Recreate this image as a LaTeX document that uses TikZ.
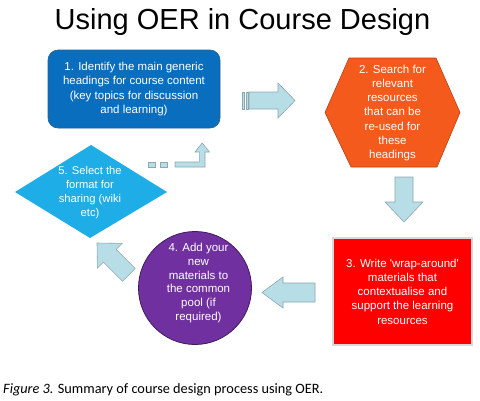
\documentclass[tikz,border=0pt]{standalone}
\usepackage{fontspec}
\setmainfont{Liberation Sans}
\newfontfamily\capfont{Carlito}
\usetikzlibrary{shapes.geometric}
\definecolor{boxblue}{HTML}{0A6EBF}
\definecolor{boxblueline}{HTML}{2C5E8E}
\definecolor{hexfill}{HTML}{F45A1C}
\definecolor{hexline}{HTML}{B5431A}
\definecolor{purp}{HTML}{7030A0}
\definecolor{purpline}{HTML}{3F1B5B}
\definecolor{diamfill}{HTML}{1EADE6}
\definecolor{arrfill}{HTML}{B7DDE6}
\definecolor{arrline}{HTML}{8CA9B0}
\begin{document}
\begin{tikzpicture}[x=1pt,y=-1pt,
  txt/.style={text=white, font=\fontsize{11.5}{14.3}\selectfont, align=center, inner sep=0pt},
  blockarrow/.style={fill=arrfill, draw=arrline, line width=0.6pt, line join=miter},
  box1/.style={txt, rectangle, rounded corners=10pt, fill=boxblue, draw=boxblueline, line width=0.6pt, minimum width=172pt, minimum height=78pt},
  box3/.style={txt, rectangle, fill=red, draw=black!15, line width=1.4pt, minimum width=139pt, minimum height=107pt}]
\fill[white] (0,0) rectangle (480,400);
\path[use as bounding box] (0,0) rectangle (480,400);

\node[font=\fontsize{29}{32}\selectfont, anchor=base, inner sep=0pt] (title) at (242.5,29) {Using OER in Course Design};

% step 1
\node[box1] (s1) at (134,89) {1. Identify the main generic\\headings for course content\\(key topics for discussion\\and learning)};

% striped arrow 1 -> 2
\fill[arrfill, draw=arrline, line width=0.5pt] (242,92) rectangle (244.5,109);
\fill[arrfill, draw=arrline, line width=0.5pt] (246,92) rectangle (248,109);
\path[blockarrow] (249,92) -- (278,92) -- (278,83) -- (295,100.5) -- (278,118) -- (278,109) -- (249,109) -- cycle;

% step 2 hexagon
\path[fill=hexfill, draw=hexline, line width=0.6pt] (325,112.5) -- (349,58) -- (436,58) -- (460,112.5) -- (437,167) -- (351,167) -- cycle;
\node[txt] (s2) at (392.5,113) {2. Search for\\relevant\\resources\\that can be\\re-used for\\these\\headings};

% arrow 2 -> 3
\path[blockarrow] (395,177) -- (413,177) -- (413,202) -- (423,202) -- (404,222) -- (385,202) -- (395,202) -- cycle;

% step 3
\node[box3] (s3) at (402.5,291.5) {3. Write \textquotesingle wrap-around\textquotesingle\\materials that\\contextualise and\\support the learning\\resources};

% arrow 3 -> 4
\path[blockarrow] (315,283) -- (283,283) -- (283,277) -- (262,292.5) -- (283,308) -- (283,302) -- (315,302) -- cycle;

% step 4 circle
\node[circle, fill=purp, draw=purpline, line width=0.8pt, minimum size=113pt, inner sep=0pt] (s4) at (195,288) {};
\node[txt, font=\fontsize{11.5}{13.8}\selectfont] (s4t) at (198.5,283) {4. Add your\\new\\materials to\\the common\\pool (if\\required)};

% arrow 4 -> 5 (diagonal)
\path[blockarrow] (97,243) -- (122.1,243.4) -- (116.1,249.4) -- (135.2,268.5) -- (122.5,281.2) -- (103.4,262.1) -- (97.4,268.1) -- cycle;

% step 5 diamond
\fill[diamfill] (91,145) -- (167,192) -- (90,238) -- (15,192) -- cycle;
\node[txt, font=\fontsize{11.2}{14}\selectfont] (s5) at (90,193) {5. Select the\\format for\\sharing (wiki\\etc)};

% striped bent arrow 5 -> 1
\fill[arrfill, draw=arrline, line width=0.5pt] (148,162) rectangle (155,167);
\fill[arrfill, draw=arrline, line width=0.5pt] (160,162) rectangle (167,167);
\path[blockarrow] (175,162) -- (199.3,162) -- (199.3,152) -- (195,152) -- (202.2,143) -- (209.5,152) -- (205,152) -- (205,167) -- (175,167) -- cycle;

% caption
\node[anchor=base west, inner sep=0pt, font=\capfont\fontsize{14.3}{16}\selectfont] (cap) at (3,393) {\textit{Figure 3.} Summary of course design process using OER.};
\end{tikzpicture}
\end{document}
